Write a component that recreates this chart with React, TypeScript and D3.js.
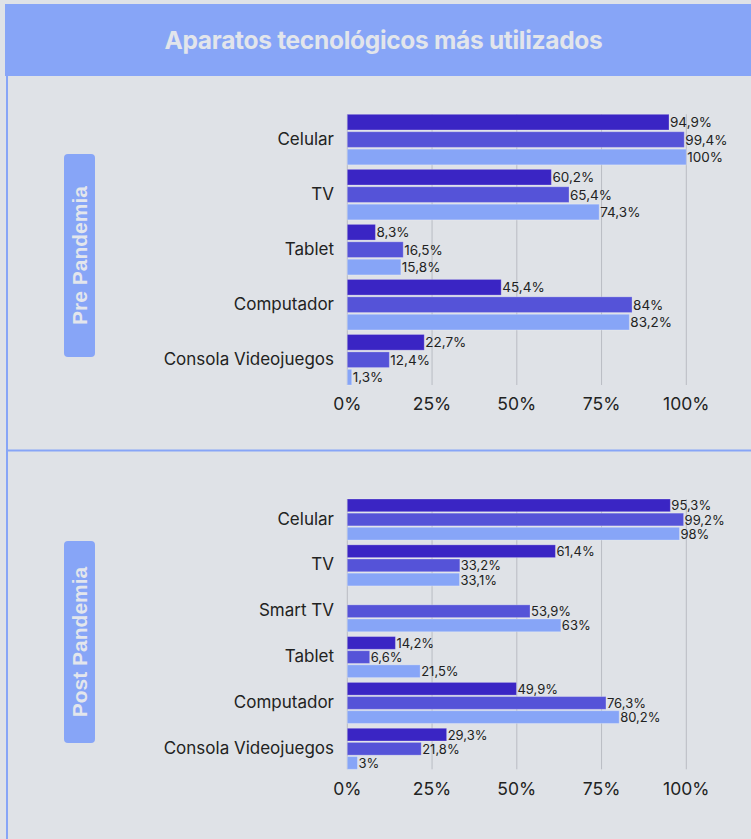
import React from "react";
import * as d3 from "d3";

const preCategories = ["Celular", "TV", "Tablet", "Computador", "Consola Videojuegos"];
const preSeries1 = [94.9, 60.2, 8.3, 45.4, 22.7];
const preSeries2 = [99.4, 65.4, 16.5, 84, 12.4];
const preSeries3 = [100, 74.3, 15.8, 83.2, 1.3];

const postCategories = ["Celular", "TV", "Smart TV", "Tablet", "Computador", "Consola Videojuegos"];
const postSeries1: (number | null)[] = [95.3, 61.4, null, 14.2, 49.9, 29.3];
const postSeries2 = [99.2, 33.2, 53.9, 6.6, 76.3, 21.8];
const postSeries3 = [98, 33.1, 63, 21.5, 80.2, 3];

const tickValues = [0, 25, 50, 75, 100];
const seriesKeys = ["s1", "s2", "s3"];
const seriesColors = ["#3a25c4", "#5553d8", "#87a5f7"];

const W = 751;
const H = 839;
const FONT = "Inter, 'DejaVu Sans', sans-serif";

const x = d3.scaleLinear().domain([0, 100]).range([347.3, 686.3]);
const fmt = (v: number) => String(v).replace(".", ",") + "%";

type PanelProps = {
  categories: string[];
  series: (number | null)[][];
  top: number;
  bottom: number;
  tickY: number;
  label: string;
  boxTop: number;
  boxBottom: number;
  pad: number;
  valueFont: number;
};

function Panel({ categories, series, top, bottom, tickY, label, boxTop, boxBottom, pad, valueFont }: PanelProps) {
  const y = d3.scaleBand<string>().domain(categories).range([top, bottom]).paddingInner(pad).paddingOuter(0);
  const yi = d3.scaleBand<string>().domain(seriesKeys).range([0, y.bandwidth()]).paddingInner(0.1);
  const boxCx = 79.5;
  const boxCy = (boxTop + boxBottom) / 2;
  return (
    <g>
      <rect x={64} y={boxTop} width={31} height={boxBottom - boxTop} rx={4} fill="#87a5f7" />
      <text
        transform={`translate(${boxCx},${boxCy}) rotate(-90)`}
        textAnchor="middle"
        dominantBaseline="central"
        fill="#e3e6ec"
        fontFamily="'Liberation Sans', Arial, sans-serif"
        fontWeight={700}
        fontSize={21}
      >
        {label}
      </text>
      {tickValues.map((t) => (
        <line key={t} x1={x(t)} x2={x(t)} y1={top} y2={bottom} stroke="#b9bcc4" strokeWidth={1} />
      ))}
      {categories.map((c, i) => (
        <g key={c}>
          <text
            x={334}
            y={(y(c) as number) + y.bandwidth() / 2 - 1}
            textAnchor="end"
            dominantBaseline="central"
            fontFamily={FONT}
            fontSize={17}
            fill="#222"
          >
            {c}
          </text>
          {series.map((s, j) => {
            const v = s[i];
            if (v === null || v === undefined) return null;
            const by = (y(c) as number) + (yi(seriesKeys[j]) as number);
            return (
              <g key={j}>
                <rect
                  x={x(0)}
                  y={by}
                  width={x(v) - x(0)}
                  height={yi.bandwidth()}
                  fill={seriesColors[j]}
                  stroke="rgba(255,255,255,0.25)"
                  strokeWidth={1}
                />
                <text
                  x={x(v) + 1}
                  y={by + yi.bandwidth() / 2}
                  dominantBaseline="central"
                  fontFamily={FONT}
                  fontSize={valueFont}
                  fill="#222"
                >
                  {fmt(v)}
                </text>
              </g>
            );
          })}
        </g>
      ))}
      {tickValues.map((t) => (
        <text
          key={"t" + t}
          x={x(t)}
          y={tickY}
          textAnchor="middle"
          dominantBaseline="central"
          fontFamily={FONT}
          fontSize={17.5}
          fill="#222"
        >
          {t + "%"}
        </text>
      ))}
    </g>
  );
}

export default function App() {
  return (
    <div style={{ position: "absolute", left: 0, top: 0 }}>
      <svg width={W} height={H} style={{ display: "block" }}>
        <rect x={0} y={0} width={W} height={H} fill="#dfe2e7" />
        <rect x={5} y={4} width={W - 5} height={72} fill="#87a5f7" />
        <text
          x={383.5}
          y={40}
          textAnchor="middle"
          dominantBaseline="central"
          fill="#e2e5eb"
          fontFamily={FONT}
          fontWeight={700}
          fontSize={24.5}
          letterSpacing={-0.3}
        >
          Aparatos tecnológicos más utilizados
        </text>
        <rect x={6} y={76} width={2} height={H - 76} fill="#87a5f7" />
        <rect x={6} y={449.5} width={W - 6} height={2} fill="#87a5f7" />
        <Panel
          categories={preCategories}
          series={[preSeries1, preSeries2, preSeries3]}
          top={114.3}
          bottom={385}
          tickY={403}
          label="Pre Pandemia"
          boxTop={154}
          boxBottom={357}
          pad={0.082}
          valueFont={13.5}
        />
        <Panel
          categories={postCategories}
          series={[postSeries1, postSeries2, postSeries3]}
          top={499}
          bottom={769.3}
          tickY={788}
          label="Post Pandemia"
          boxTop={541}
          boxBottom={743}
          pad={0.105}
          valueFont={13}
        />
      </svg>
    </div>
  );
}
